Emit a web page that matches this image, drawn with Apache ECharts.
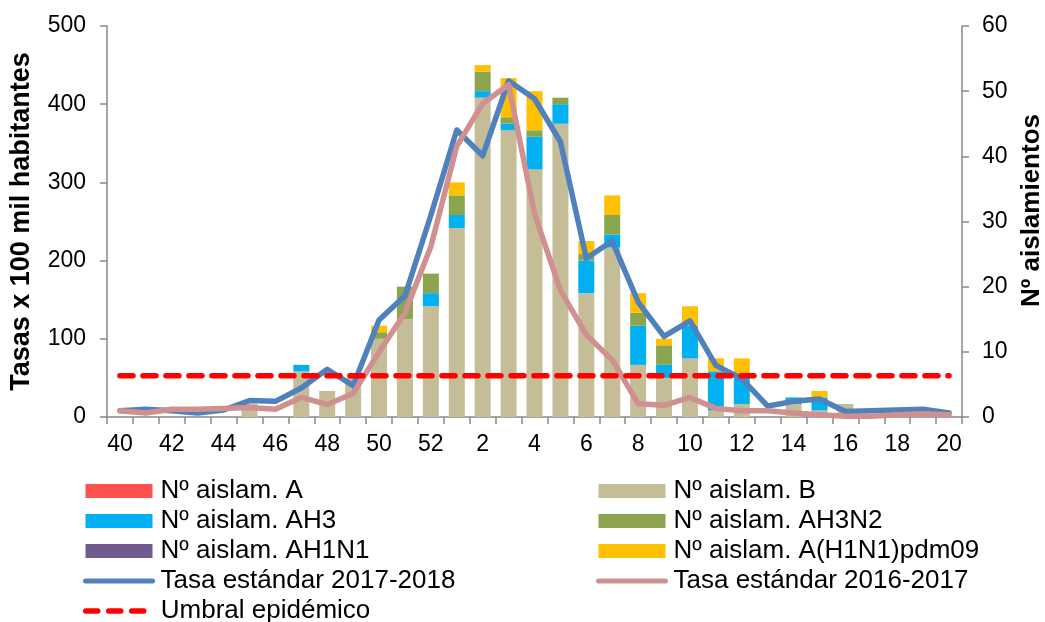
<!DOCTYPE html>
<html>
<head>
<meta charset="utf-8">
<script src="https://cdn.jsdelivr.net/npm/echarts@6/dist/echarts.min.js"></script>
<style>
html,body{margin:0;padding:0;background:#fff;}
#chart{width:1045px;height:622px;}
</style>
</head>
<body>
<div id="chart"></div>
<script>
const weeks = ['40','41','42','43','44','45','46','47','48','49','50','51','52','1','2','3','4','5','6','7','8','9','10','11','12','13','14','15','16','17','18','19','20'];
const aislA      = [0,0,0,0,0,0,0,0,0,0,0,0,0, 0,0,0,0,0,0,0,0,0,0,0,0,0,0,0,0,0,0,0,0];
const aislB      = [0,0,0,0,0,2,0,7,4,6,12,15,17, 29,49,44,38,45,19,26,8,6,9,1,2,0,2,1,2,0,0,0,0];
const aislAH3    = [0,0,0,0,0,0,0,1,0,0,0,0,2, 2,1,1,5,3,5,2,6,2,5,6,4,0,1,2,0,0,0,0,0];
const aislAH3N2  = [0,0,0,0,0,0,0,0,0,0,1,5,3, 3,3,1,1,1,1,3,2,3,0,0,0,0,0,0,0,0,0,0,0];
const aislAH1N1  = [0,0,0,0,0,0,0,0,0,0,0,0,0, 0,0,0,0,0,0,0,0,0,0,0,0,0,0,0,0,0,0,0,0];
const aislPdm09  = [0,0,0,0,0,0,0,0,0,0,1,0,0, 2,1,6,6,0,2,3,3,1,3,2,3,0,0,1,0,0,0,0,0];
const tasa1718   = [8,10,8,5,9,21,20,37,61,40,124,155,258, 367,334,430,407,352,203,225,147,103,123,66,49,14,20,23,7,8,9,10,5];
const tasa1617   = [8,5,10,10,11,12,10,25,16,30,83,133,218, 346,401,425,260,162,105,73,17,15,25,11,8,8,5,3,1,1,3,4,3];
const umbral     = [52.6,52.6,52.6,52.6,52.6,52.6,52.6,52.6,52.6,52.6,52.6,52.6,52.6,52.6,52.6,52.6,52.6,52.6,52.6,52.6,52.6,52.6,52.6,52.6,52.6,52.6,52.6,52.6,52.6,52.6,52.6,52.6,52.6];
const leftTicks  = {min:0, max:500, interval:100};
const rightTicks = {min:0, max:60, interval:10};

const FONT = 'Arial, "Liberation Sans", sans-serif';
const axisGray = '#898989';
const C = {
  A: '#FF5050', B: '#C4BD97', AH3: '#00B0F0', AH3N2: '#8BA54F', AH1N1: '#725A8C', pdm: '#FFC000',
  t1718: '#4F81BD', t1617: '#D09090', umbral: '#FF0000'
};

const chart = echarts.init(document.getElementById('chart'));

function barSeries(name, data, color) {
  return {
    name: name, type: 'bar', stack: 'aisl', yAxisIndex: 1, data: data,
    barWidth: 16, itemStyle: {color: color}, z: 2
  };
}

const legendText = {fontFamily: FONT, fontSize: 26, color: '#000', lineHeight: 26, padding: [0,0,0,3]};
const hiddenSymbol = {color: 'rgba(0,0,0,0)', borderWidth: 0, opacity: 0};
function legendBase(left, top, data) {
  return {
    orient: 'vertical', left: left, top: top, padding: 0, itemWidth: 67, itemHeight: 14, itemGap: 4,
    textStyle: legendText, selectedMode: false, data: data
  };
}

chart.setOption({
  animation: false,
  backgroundColor: '#fff',
  grid: {left: 107, right: 83, top: 26, height: 391, containLabel: false, outerBoundsMode: 'none'},
  legend: [
    legendBase(83, 478, [
      {name: 'Nº aislam. A', icon: 'rect'},
      {name: 'Nº aislam. AH3', icon: 'rect'},
      {name: 'Nº aislam. AH1N1', icon: 'rect'},
      {name: 'Tasa estándar 2017-2018', itemStyle: hiddenSymbol,
        lineStyle: {width: 5, color: C.t1718, cap: 'round'}}
    ]),
    legendBase(83, 598, [
      {name: 'Umbral epidémico', itemStyle: hiddenSymbol,
        lineStyle: {width: 5.5, color: C.umbral, type: [12, 11], cap: 'round'}}
    ]),
    legendBase(596, 478, [
      {name: 'Nº aislam. B', icon: 'rect'},
      {name: 'Nº aislam. AH3N2', icon: 'rect'},
      {name: 'Nº aislam. A(H1N1)pdm09', icon: 'rect'},
      {name: 'Tasa estándar 2016-2017', itemStyle: hiddenSymbol,
        lineStyle: {width: 5, color: C.t1617, cap: 'round'}}
    ])
  ],
  xAxis: {
    type: 'category', data: weeks, boundaryGap: true,
    axisLine: {lineStyle: {color: axisGray, width: 1.5}},
    axisTick: {show: true, interval: 0, length: 7, lineStyle: {color: axisGray, width: 1.5}},
    axisLabel: {interval: 1, margin: 16, fontFamily: FONT, fontSize: 23, color: '#000'},
    splitLine: {show: false}
  },
  yAxis: [
    {
      type: 'value', position: 'left', min: leftTicks.min, max: leftTicks.max, interval: leftTicks.interval,
      name: 'Tasas x 100 mil habitantes', nameLocation: 'middle', nameGap: 72,
      nameTextStyle: {fontFamily: FONT, fontSize: 27, fontWeight: 'bold', color: '#000'},
      axisLine: {show: true, lineStyle: {color: axisGray, width: 1.5}},
      axisTick: {show: true, length: 7, lineStyle: {color: axisGray, width: 1.5}},
      axisLabel: {margin: 21, fontFamily: FONT, fontSize: 23, color: '#000'},
      splitLine: {show: false}
    },
    {
      type: 'value', position: 'right', min: rightTicks.min, max: rightTicks.max, interval: rightTicks.interval,
      name: 'Nº aislamientos', nameLocation: 'middle', nameGap: 57,
      nameTextStyle: {fontFamily: FONT, fontSize: 26, fontWeight: 'bold', color: '#000', padding: [0,0,0,22]},
      axisLine: {show: true, lineStyle: {color: axisGray, width: 1.5}},
      axisTick: {show: true, length: 7, lineStyle: {color: axisGray, width: 1.5}},
      axisLabel: {margin: 20, fontFamily: FONT, fontSize: 23, color: '#000'},
      splitLine: {show: false}
    }
  ],
  series: [
    barSeries('Nº aislam. A', aislA, C.A),
    barSeries('Nº aislam. B', aislB, C.B),
    barSeries('Nº aislam. AH3', aislAH3, C.AH3),
    barSeries('Nº aislam. AH3N2', aislAH3N2, C.AH3N2),
    barSeries('Nº aislam. AH1N1', aislAH1N1, C.AH1N1),
    barSeries('Nº aislam. A(H1N1)pdm09', aislPdm09, C.pdm),
    {
      name: 'Tasa estándar 2017-2018', type: 'line', yAxisIndex: 0, data: tasa1718,
      symbol: 'none', lineStyle: {color: C.t1718, width: 5.5, cap: 'round', join: 'round'},
      itemStyle: {color: C.t1718}, z: 3
    },
    {
      name: 'Tasa estándar 2016-2017', type: 'line', yAxisIndex: 0, data: tasa1617,
      symbol: 'none', lineStyle: {color: C.t1617, width: 5.5, cap: 'round', join: 'round'},
      itemStyle: {color: C.t1617}, z: 4
    },
    {
      name: 'Umbral epidémico', type: 'line', yAxisIndex: 0, data: umbral,
      symbol: 'none', lineStyle: {color: C.umbral, width: 5.5, type: [13, 10], cap: 'round'},
      itemStyle: {color: C.umbral}, z: 5
    }
  ]
});
</script>
</body>
</html>
